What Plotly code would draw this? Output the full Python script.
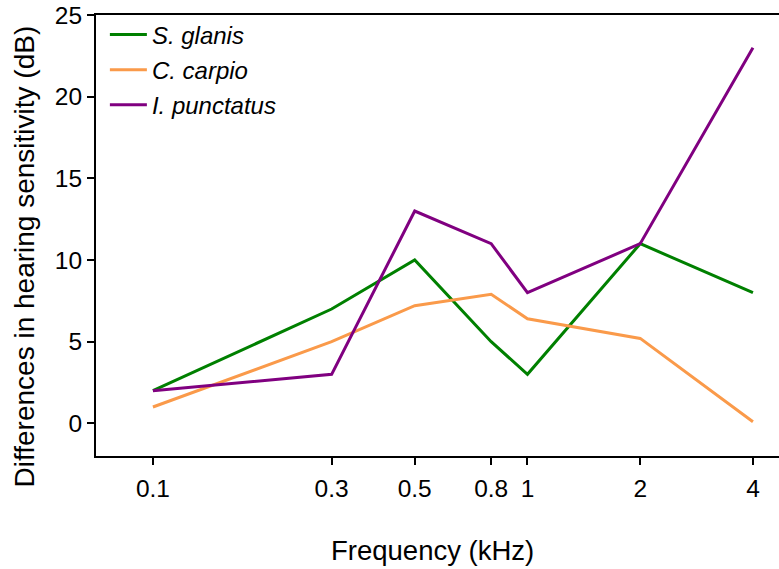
import plotly.graph_objects as go

freq = [0.1, 0.3, 0.5, 0.8, 1, 2, 4]
s_glanis = [2, 7, 10, 5, 3, 11, 8]
c_carpio = [1, 5, 7.2, 7.9, 6.4, 5.2, 0.1]
i_punctatus = [2, 3, 13, 11, 8, 11, 23]
tick_vals = [0.1, 0.3, 0.5, 0.8, 1, 2, 4]
tick_text = ["0.1", "0.3", "0.5", "0.8", "1", "2", "4"]
y_ticks = [0, 5, 10, 15, 20, 25]

series = [
    ("S. glanis", s_glanis, "#008000"),
    ("C. carpio", c_carpio, "#FA9A4A"),
    ("I. punctatus", i_punctatus, "#800080"),
]

fig = go.Figure()
for name, vals, col in series:
    fig.add_trace(go.Scatter(x=freq, y=vals, mode="lines", name=name,
                             legendgroup=name,
                             line=dict(color=col, width=3)))

font = "Liberation Sans, Arial, sans-serif"
fig.update_layout(
    template="none",
    width=779, height=569,
    margin=dict(l=96, r=0, t=15, b=113),
    plot_bgcolor="white", paper_bgcolor="white",
    font=dict(family=font, size=24, color="black"),
    showlegend=True,
    legend=dict(x=0.013, y=1.006, xanchor="left", yanchor="top",
                bgcolor="rgba(0,0,0,0)", tracegroupgap=1,
                font=dict(size=24, style="italic"),
                traceorder="grouped", itemwidth=37,
                ),
    annotations=[
        dict(text="Differences in hearing sensitivity (dB)", textangle=-90,
             xref="paper", yref="paper", x=-0.104, y=0.4524,
             xanchor="center", yanchor="middle", showarrow=False,
             font=dict(size=28)),
        dict(text="Frequency (kHz)",
             xref="paper", yref="paper", x=0.4934, y=-0.2154,
             xanchor="center", yanchor="middle", showarrow=False,
             font=dict(size=27.5)),
    ],
)
fig.update_xaxes(type="log", range=[-1.152, 0.6716],
               tickmode="array", tickvals=tick_vals, ticktext=tick_text,
               showgrid=False, zeroline=False,
               showline=True, linecolor="black", linewidth=2, mirror=True,
               ticks="outside", ticklen=7, tickcolor="black", tickwidth=1.5,
               ticklabelstandoff=3,
               tickfont_size=24.5)
fig.update_yaxes(range=[-2, 25], tickmode="array", tickvals=y_ticks,
               showgrid=False, zeroline=False,
               showline=True, linecolor="black", linewidth=2,
               ticks="outside", ticklen=7, tickcolor="black", tickwidth=1.5,
               tickfont_size=24.5)

fig.write_html("out.html")
